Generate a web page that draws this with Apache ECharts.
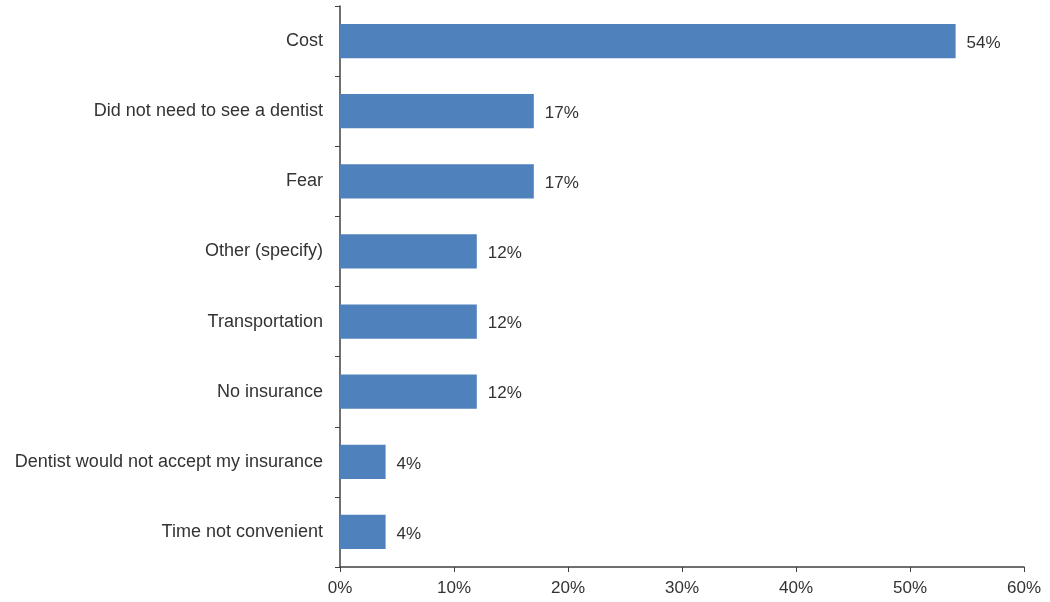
<!DOCTYPE html>
<html><head><meta charset="utf-8">
<script src="https://cdn.jsdelivr.net/npm/echarts@6/dist/echarts.min.js"></script>
<style>html,body{margin:0;padding:0;background:#fff}#c{width:1050px;height:602px}</style>
</head><body><div id="c"></div>
<script>
const categories = ["Cost","Did not need to see a dentist","Fear","Other (specify)","Transportation","No insurance","Dentist would not accept my insurance","Time not convenient"];
const values = [54,17,17,12,12,12,4,4];
const xTicks = [0,10,20,30,40,50,60];

const chart = echarts.init(document.getElementById('c'));
chart.setOption({
  animation:false,
  grid:{left:340,top:6,right:26,bottom:35,containLabel:false},
  xAxis:{type:'value',min:xTicks[0],max:xTicks[xTicks.length-1],interval:10,
    axisLine:{show:true,lineStyle:{color:'#404040',width:1.5}},
    axisTick:{show:true,length:5,lineStyle:{color:'#404040'}},
    splitLine:{show:false},
    axisLabel:{formatter:v=>v+'%',color:'#333',fontSize:17,fontFamily:'Liberation Sans, Arial',margin:13}},
  yAxis:{type:'category',data:categories.slice().reverse(),
    axisLine:{show:true,lineStyle:{color:'#404040',width:1.5}},
    axisTick:{show:true,length:5,lineStyle:{color:'#404040'}},
    axisLabel:{color:'#333',fontSize:18,fontFamily:'Liberation Sans, Arial',margin:17,padding:[4,0,0,0]}},
  series:[{type:'bar',data:values.slice().reverse(),barCategoryGap:'51%',
    itemStyle:{color:'#4F81BD'},
    label:{show:true,position:'right',distance:11,offset:[0,2],formatter:p=>p.value+'%',color:'#333',fontSize:17,fontFamily:'Liberation Sans, Arial'}}]
});
</script></body></html>
